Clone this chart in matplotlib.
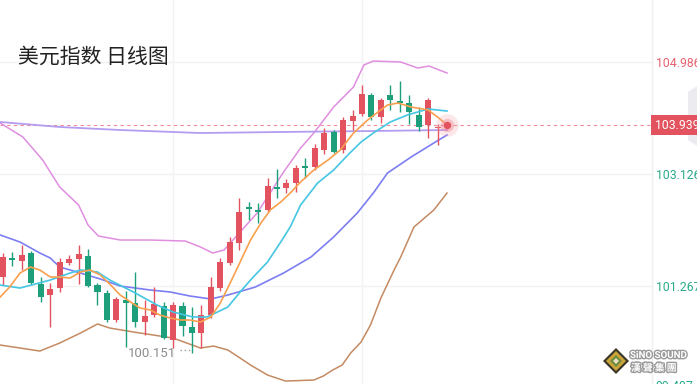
import numpy as np
import matplotlib.pyplot as plt
import matplotlib.patheffects as pe
from matplotlib.patches import Polygon

plt.rcParams['font.family'] = ['Noto Sans CJK SC', 'DejaVu Sans']

# daily candles (open, high, low, close)
opens = [101.417, 101.732, 101.682, 101.815, 101.301, 101.118, 101.234, 101.649, 101.716, 101.765,
         101.284, 101.151, 100.703, 101.035, 100.985, 100.670, 100.786, 100.935, 100.371, 100.935,
         100.587, 100.487, 100.786, 101.234, 101.649, 101.981, 102.579, 102.529, 102.529, 102.911,
         102.894, 102.977, 103.259, 103.243, 103.525, 103.824, 103.525, 104.006, 104.123, 104.438,
         104.073, 104.438, 104.338, 104.305, 104.106, 103.940, 103.890, 103.920]
highs = [101.815, 101.832, 101.948, 101.848, 101.417, 101.317, 101.732, 101.782, 101.948, 101.882,
         101.317, 101.201, 101.085, 101.184, 101.500, 101.035, 101.250, 101.002, 101.002, 101.002,
         100.918, 100.952, 101.417, 101.732, 102.081, 102.729, 102.662, 102.645, 103.060, 103.210,
         103.044, 103.276, 103.392, 103.625, 103.890, 103.857, 104.073, 104.189, 104.604, 104.471,
         104.388, 104.604, 104.670, 104.438, 104.239, 104.388, 103.957, 103.960]
lows = [101.284, 101.599, 101.533, 101.284, 101.002, 100.587, 101.168, 101.616, 101.301, 101.250,
        100.952, 100.670, 100.670, 100.255, 100.587, 100.454, 100.753, 100.388, 100.238, 100.437,
        100.151, 100.238, 100.736, 101.184, 101.616, 101.865, 102.363, 102.313, 102.496, 102.729,
        102.811, 102.828, 103.060, 103.193, 103.459, 103.475, 103.475, 103.857, 104.089, 104.023,
        103.973, 104.189, 104.156, 103.957, 103.840, 103.724, 103.608, 103.900]
closes = [101.749, 101.699, 101.782, 101.317, 101.085, 101.218, 101.666, 101.716, 101.799, 101.267,
          101.168, 100.703, 101.052, 100.985, 100.670, 100.769, 100.968, 100.404, 100.952, 100.603,
          100.487, 100.786, 101.250, 101.666, 101.998, 102.496, 102.546, 102.496, 102.927, 102.878,
          102.977, 103.226, 103.226, 103.558, 103.807, 103.492, 104.023, 104.089, 104.455, 104.073,
          104.355, 104.355, 104.305, 104.156, 103.907, 104.355, 103.907, 103.939]

# indicator lines (x in candle index)
ma5_x = [-0.3, 0.7, 1.8, 2.9, 3.9, 5.0, 6.0, 7.1, 8.2, 9.2, 10.3, 11.4, 12.4, 13.5, 14.5, 15.6, 16.6,
         17.7, 18.8, 19.8, 20.9, 22.0, 23.0, 24.1, 25.1, 26.2, 27.3, 28.3, 29.4, 30.4, 31.5, 32.9,
         34.4, 35.7, 37.1, 38.6, 39.7, 40.7, 41.8, 43.2, 45.0, 46.0, 47.0]
ma5_y = [101.085, 101.250, 101.483, 101.583, 101.533, 101.417, 101.417, 101.400, 101.500, 101.533,
         101.450, 101.284, 101.118, 101.002, 100.902, 100.869, 100.786, 100.736, 100.703, 100.703,
         100.670, 100.753, 100.985, 101.334, 101.666, 102.031, 102.313, 102.529, 102.662, 102.811,
         102.994, 103.193, 103.359, 103.525, 103.807, 104.023, 104.156, 104.272, 104.305, 104.239,
         104.189, 104.073, 103.940]
ma10_x = [-0.3, 1.8, 5.0, 7.1, 8.2, 10.0, 11.3, 13.8, 16.3, 18.0, 20.1, 21.6, 23.8, 25.1, 26.2,
          28.0, 29.4, 30.4, 31.5, 33.3, 35.0, 36.5, 37.9, 39.2, 41.0, 42.8, 45.0, 47.0]
ma10_y = [101.284, 101.234, 101.367, 101.483, 101.533, 101.500, 101.367, 101.168, 100.952, 100.836,
          100.753, 100.753, 100.919, 101.168, 101.367, 101.666, 101.998, 102.247, 102.612, 102.977,
          103.193, 103.442, 103.658, 103.807, 103.990, 104.106, 104.206, 104.172]
mid_x = [-0.3, 1.8, 3.9, 5.0, 6.0, 8.2, 10.3, 12.4, 15.6, 17.7, 19.8, 22.0, 23.8, 26.7, 29.7,
         32.6, 35.0, 37.5, 39.2, 40.7, 43.2, 45.6, 47.0]
mid_y = [102.114, 101.998, 101.815, 101.732, 101.583, 101.483, 101.384, 101.267, 101.201, 101.168,
         101.101, 101.052, 101.118, 101.250, 101.483, 101.749, 102.081, 102.479, 102.811, 103.143,
         103.409, 103.641, 103.774]
upper_x = [-0.3, 2.1, 4.2, 6.0, 8.0, 9.0, 10.1, 12.4, 15.6, 19.3, 20.9, 22.2, 23.4, 25.1, 26.9,
           29.7, 31.5, 32.9, 35.0, 37.1, 38.2, 39.2, 42.1, 43.9, 45.1, 47.0]
upper_y = [103.973, 103.741, 103.359, 102.911, 102.612, 102.280, 102.097, 102.031, 102.031, 102.014,
           101.915, 101.815, 101.865, 102.164, 102.479, 103.160, 103.558, 103.807, 104.239, 104.571,
           104.936, 105.002, 104.986, 104.886, 104.919, 104.803]
lower_x = [-0.3, 3.9, 6.0, 8.2, 10.0, 11.3, 13.8, 15.9, 18.0, 20.9, 22.3, 23.8, 25.1, 26.2, 28.0,
           29.9, 32.9, 33.9, 34.9, 35.9, 36.8, 37.9, 38.9, 40.0, 41.4, 42.1, 43.5, 45.6, 47.0]
lower_y = [100.288, 100.188, 100.321, 100.487, 100.637, 100.570, 100.504, 100.454, 100.404, 100.238,
           100.271, 100.205, 100.072, 99.956, 99.790, 99.690, 99.707, 99.773, 99.873, 99.956,
           100.155, 100.338, 100.620, 101.068, 101.533, 101.749, 102.247, 102.529, 102.811]
long_x = [-0.3, 6.0, 12.4, 20.9, 29.4, 38.9, 47.0]
long_y = [103.990, 103.907, 103.857, 103.807, 103.824, 103.840, 103.857]

price_ticks = [101.267, 103.126, 104.986]
last_price = 103.939
low_price = 100.151
bottom_label = '99.407'

UP = '#e2535f'
DOWN = '#1d9f7b'
NUMFONT = ['Roboto', 'DejaVu Sans']

fig = plt.figure(figsize=(6.97, 3.84), dpi=100)
ax = fig.add_axes([0, 0, 652 / 697, 1])
ax.set_xlim(-0.32, 68.7)
ax.set_ylim(99.641, 106.015)

for s in ax.spines.values():
    s.set_visible(False)
ax.set_xticks([])

# grid
for p in price_ticks:
    ax.axhline(p, color='#f2f2f4', lw=1, zorder=0)
for gx in [18.0, 38.0]:
    ax.axvline(gx, color='#f2f2f4', lw=1, zorder=0)

# bands and long average
ax.plot(upper_x, upper_y, color='#e08ee0', lw=1.1, zorder=2)
ax.plot(lower_x, lower_y, color='#c48a62', lw=1.1, zorder=2)
ax.plot(mid_x, mid_y, color='#7c7ef2', lw=1.2, zorder=2)
ax.plot(long_x, long_y, color='#b49cf0', lw=1.3, zorder=2)

# candles
idx = np.arange(len(opens))
for i in idx:
    o, h, l, c = opens[i], highs[i], lows[i], closes[i]
    col = UP if c >= o else DOWN
    ax.vlines(i, l, h, color=col, lw=1, zorder=3)
    bot = min(o, c)
    hgt = max(abs(c - o), 0.022)
    ax.bar(i, hgt, bottom=bot, width=0.64, color=col, zorder=3, linewidth=0)

ax.plot(ma10_x, ma10_y, color='#45c6e2', lw=1.2, zorder=4)
ax.plot(ma5_x, ma5_y, color='#f9a04e', lw=1.2, zorder=4)

# last price
ax.axhline(last_price, color='#f08b9b', lw=0.8, ls=(0, (3, 3)), zorder=1)
ax.scatter([47], [last_price], s=260, color='#f4a0a8', alpha=0.25, zorder=5, linewidths=0)
ax.scatter([47], [last_price], s=90, color='#f08a95', alpha=0.45, zorder=5, linewidths=0)
ax.scatter([47], [last_price], s=28, color='#e2535f', zorder=6, linewidths=0)

# low marker
ax.text(18.3, low_price, f'{low_price:.3f}', ha='right', va='center', fontsize=9.5,
        color='#8c8c8c', family=NUMFONT)
ax.plot([18.7, 19.8], [low_price + 0.05, low_price + 0.05], color='#9a9a9a', lw=1,
        ls=(0, (1, 2)))

# right price axis
ax.yaxis.tick_right()
ax.set_yticks(price_ticks)
ax.set_yticklabels([f'{p:.3f}' for p in price_ticks], family=NUMFONT, fontsize=8.8)
ax.tick_params(axis='y', length=0, pad=3)
for lab, p in zip(ax.get_yticklabels(), price_ticks):
    lab.set_color('#e8606e' if p > last_price else '#2aaa8a')
fig.add_artist(plt.Line2D([652 / 697, 652 / 697], [0, 1], color='#efeff2', lw=1))
fig.text(655 / 697, -3 / 384, bottom_label, ha='left', va='center', fontsize=8.8,
         color='#2aaa8a', family=NUMFONT)

# last price badge
y_lp = (last_price - 99.641) / (106.015 - 99.641)
fig.text(655 / 697, y_lp, f'{last_price:.3f}', ha='left', va='center', fontsize=8.8,
         color='white', family=NUMFONT,
         bbox=dict(boxstyle='square,pad=0.3', fc='#e2535f', ec='none'))

# side handle
fig.add_artist(Polygon([[688 / 697, 1 - 92 / 384], [697 / 697, 1 - 86 / 384],
                        [697 / 697, 1 - 146 / 384], [688 / 697, 1 - 140 / 384]],
                       closed=True, fc='#ececf0', ec='none', transform=fig.transFigure, zorder=0))

# title
fig.text(18 / 697, 1 - 57 / 384, '美元指数 日线图', ha='left', va='center', fontsize=15,
         color='#222222')

# logo
cx, cy = 616 / 697, 1 - 361 / 384
for r, c in [(13, '#3b3528'), (10, '#c9a43a'), (6, '#6e8a3a'), (3, '#e8e0c0')]:
    fig.add_artist(Polygon([[cx - r / 697, cy], [cx, cy + r / 384], [cx + r / 697, cy],
                            [cx, cy - r / 384]], closed=True, fc=c, ec='none',
                           transform=fig.transFigure))
stroke = [pe.withStroke(linewidth=2, foreground='#9a9a9a')]
fig.text(630 / 697, 1 - 355 / 384, 'SiNO SOUND', ha='left', va='center', fontsize=7,
         fontweight='bold', color='white', family=NUMFONT, path_effects=stroke)
fig.text(631 / 697, 1 - 368 / 384, '漢 聲 集 團', ha='left', va='center', fontsize=7,
         fontweight='bold', color='white', path_effects=stroke)

fig.savefig('out.png', dpi=100)
